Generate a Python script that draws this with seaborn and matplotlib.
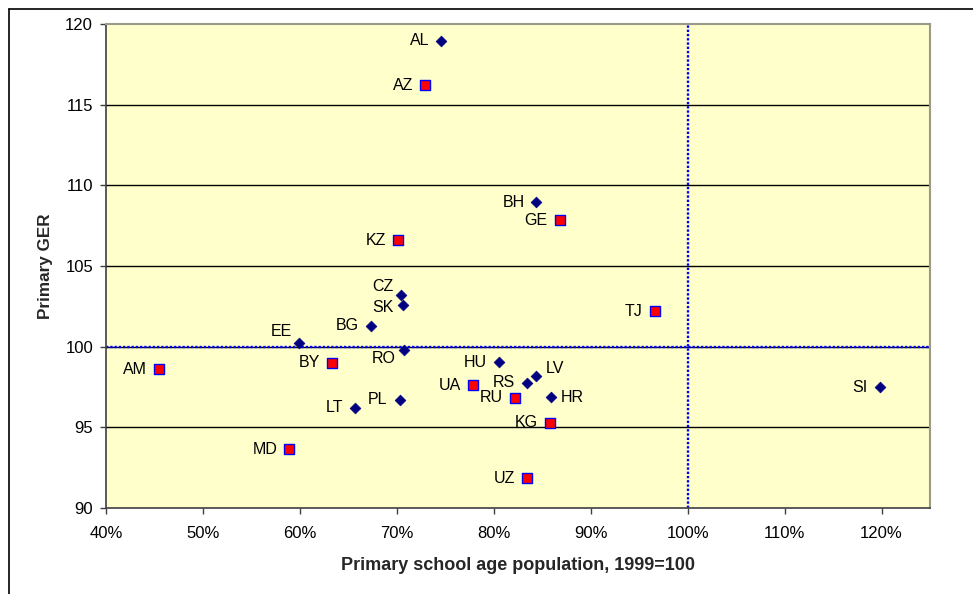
import matplotlib
matplotlib.use("Agg")
import matplotlib.pyplot as plt
import matplotlib.ticker as mticker
from matplotlib.lines import Line2D
import pandas as pd
import seaborn as sns

# country codes and values
countries = ["AL", "AZ", "BH", "GE", "KZ", "CZ", "SK", "BG", "EE", "RO", "BY", "AM",
             "HU", "LV", "RS", "UA", "RU", "HR", "KG", "PL", "LT", "MD", "UZ", "TJ", "SI"]
# primary school age population, 1999=100 (as fraction)
pop_index = [0.746, 0.729, 0.844, 0.868, 0.701, 0.704, 0.706, 0.673, 0.599, 0.707, 0.633, 0.455,
             0.805, 0.844, 0.834, 0.779, 0.822, 0.859, 0.858, 0.703, 0.657, 0.589, 0.834, 0.966, 1.198]
# primary gross enrolment ratio
primary_ger = [118.95, 116.2, 108.95, 107.85, 106.6, 103.2, 102.6, 101.3, 100.2, 99.8, 99.0, 98.6,
               99.03, 98.18, 97.76, 97.6, 96.83, 96.85, 95.28, 96.7, 96.2, 93.65, 91.85, 102.2, 97.5]
# marker group: diamond (navy) or square (red)
group = ["d", "s", "d", "s", "s", "d", "d", "d", "d", "d", "s", "s",
         "d", "d", "d", "s", "s", "d", "s", "d", "d", "s", "s", "s", "d"]

df = pd.DataFrame({"country": countries, "pop": pop_index, "ger": primary_ger, "group": group})

# label placement (offset in pixels, horizontal alignment)
label_pos = {"CZ": (-7, 9, "right"), "SK": (-9, -3, "right"), "EE": (-7, 12, "right"),
             "RO": (-8, -9, "right"), "LV": (9, 8, "left"), "HR": (10, 0, "left")}

sns.set_style("white")
plt.rcParams["font.family"] = ["Liberation Sans", "DejaVu Sans"]

fig = plt.figure(figsize=(9.73, 5.94), dpi=100)
ax = fig.add_axes([106 / 973, 86 / 594, 824 / 973, 484 / 594])
ax.set_facecolor("#FFFFCC")

ax.set_xlim(0.4, 1.25)
ax.set_ylim(90, 120)
ax.set_yticks([90, 95, 100, 105, 110, 115, 120])
ax.set_xticks([0.4, 0.5, 0.6, 0.7, 0.8, 0.9, 1.0, 1.1, 1.2])
ax.xaxis.set_major_formatter(mticker.FuncFormatter(lambda v, p: f"{v * 100:.0f}%"))

# gridlines
for yv in [95, 100, 105, 110, 115]:
    ax.axhline(yv, color="black", lw=1, zorder=1)

# reference lines at 100
ax.axhline(100, color="#0000FF", lw=1.7, ls=(0, (1, 0.8)), zorder=2)
ax.axvline(1.0, color="#0000FF", lw=1.7, ls=(0, (1, 0.8)), zorder=2)

dia = df[df["group"] == "d"]
sq = df[df["group"] == "s"]
sns.scatterplot(data=dia, x="pop", y="ger", marker="D", s=30, color="#000080",
                edgecolor="#000080", linewidth=0.5, ax=ax, zorder=3, legend=False)
sns.scatterplot(data=sq, x="pop", y="ger", marker="s", s=55, color="#FF0000",
                edgecolor="#0000FF", linewidth=1.0, ax=ax, zorder=3, legend=False)

for c, xv, yv in zip(countries, pop_index, primary_ger):
    dx, dy, ha = label_pos.get(c, (-12, 0, "right"))
    ax.annotate(c, (xv, yv), xytext=(dx, dy), textcoords="offset pixels",
                ha=ha, va="center", fontsize=11.5, color="black", zorder=4)

for s in ["left", "bottom"]:
    ax.spines[s].set_color("#404040")
    ax.spines[s].set_linewidth(1.2)
for s in ["top", "right"]:
    ax.spines[s].set_color("#9A9A8A")
    ax.spines[s].set_linewidth(1.5)

ax.tick_params(axis="both", direction="out", length=4.3, width=1, color="#404040",
               labelsize=12, labelcolor="black", left=True, bottom=True)
ax.tick_params(axis="x", pad=9)
ax.tick_params(axis="y", pad=5)

ax.set_xlabel("Primary school age population, 1999=100", fontsize=13, fontweight="bold", labelpad=11)
ax.set_ylabel("Primary GER", fontsize=12.3, fontweight="bold", labelpad=9)

# outer chart frame (top and left edges visible)
fig.add_artist(Line2D([9 / 973, 9 / 973], [0, 1 - 9 / 594], transform=fig.transFigure,
                      color="black", lw=1.2))
fig.add_artist(Line2D([9 / 973, 1], [1 - 9 / 594, 1 - 9 / 594], transform=fig.transFigure,
                      color="black", lw=1.2))

fig.savefig("out.png", dpi=100)
